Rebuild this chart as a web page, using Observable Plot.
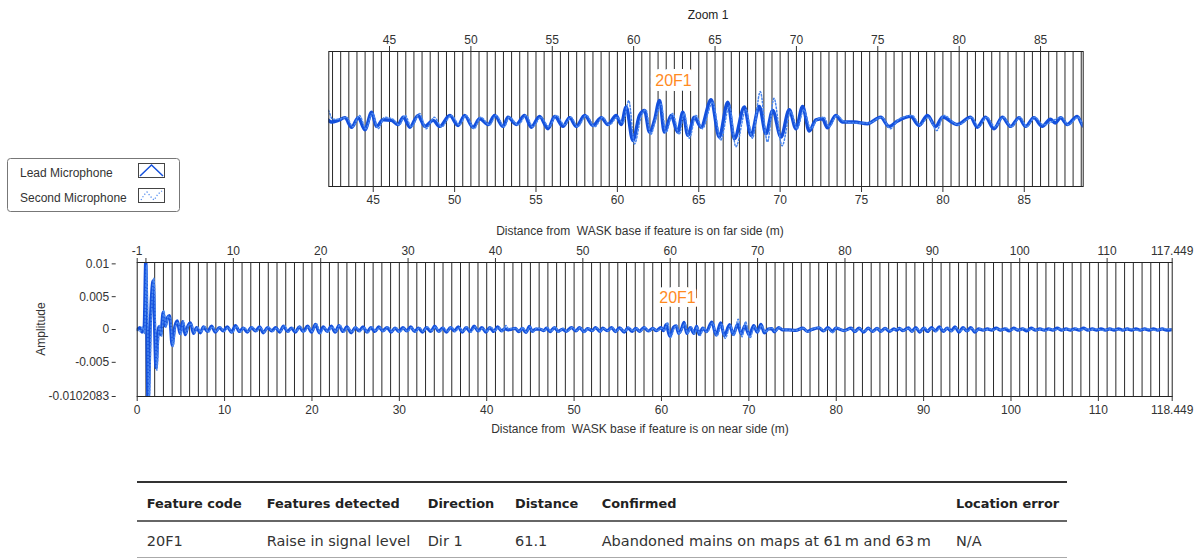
<!DOCTYPE html>
<html><head><meta charset="utf-8">
<script src="https://cdn.jsdelivr.net/npm/d3@7"></script>
<script src="https://cdn.jsdelivr.net/npm/@observablehq/plot@0.6"></script>
<style>
body{margin:0;background:#fff;}
#root{position:relative;width:1195px;height:559px;overflow:hidden;font-family:"Liberation Sans",Arial,sans-serif;color:#333;}
.abs{position:absolute;white-space:pre;}
svg.plot{position:absolute;left:0;}
</style></head><body><div id="root"></div>
<script>
// ---------- DATA ----------
// Lead microphone trace: [distance from WASK base, near side (m), amplitude]
const leadMic = [
[0,0],[0.3,0.0003],[0.55,-0.0004],[0.8,0.0005],[0.98,0.0105],[1.25,-0.0115],[1.5,0.0008],[1.82,0.0074],[2.15,-0.0058],[2.45,0.0004],[2.7,-0.0008],[2.97,0.0026],[3.2,0.0005],[3.45,0.0018],[3.7,0.0021],[4.0,-0.0024],[4.3,0.0004],[4.6,0.0013],[4.9,-0.0006],[5.2,0.0012],[5.5,-0.0008],[5.8,0.0005],[6.1,0.0010],[6.45,-0.0006],[6.8,0.0003],
[7.2,-0.0005],[7.6,0.0004],[8.05,-0.0003],[8.5,0.0005],[8.95,-0.0004],[9.4,0.0003],[9.85,-0.0002],[10.3,0.0004],[10.8,-0.0004],[11.25,0.0006],[11.7,-0.0003],[12.15,0.0002],[12.6,-0.0004],[13.05,0.0003],[13.55,-0.0002],[14.0,0.0004],[14.45,-0.0005],[14.9,0.0003],[15.4,-0.0002],[15.85,0.0003],[16.3,-0.0004],[16.75,0.0005],[17.2,-0.0003],[17.65,0.0002],[18.1,-0.0004],[18.55,0.0004],[19.0,-0.0003],[19.5,0.0005],[19.95,-0.0004],[20.4,0.0008],[20.85,-0.0005],[21.3,0.0004],[21.75,-0.0003],[22.2,0.0005],[22.65,-0.0004],[23.1,0.0006],[23.55,-0.0003],[24.0,0.0004],[24.5,-0.0005],[24.95,0.0003],[25.4,-0.0002],[25.85,0.0004],[26.3,-0.0004],[26.75,0.0003],[27.2,-0.0003],[27.65,0.0004],[28.1,-0.0002],[28.6,0.0003],[29.05,-0.0004],[29.5,0.0002],[29.95,-0.0003],[30.4,0.0003],[30.85,-0.0002],[31.3,0.0004],[31.75,-0.0003],[32.2,0.0002],[32.65,-0.0004],[33.1,0.0003],[33.6,-0.0003],[34.05,0.0005],[34.5,-0.0003],[34.95,0.0002],[35.4,-0.0004],[35.85,0.0003],[36.3,-0.0002],[36.75,0.0004],[37.2,-0.0004],[37.65,0.0003],[38.1,-0.0003],[38.55,0.0005],[39.0,-0.0002],[39.45,0.0003],[39.9,-0.0004],[40.35,0.0003],[40.8,-0.0003],[41.25,0.0004],[41.7,-0.0002],[42.1,0.0001],
[42.44,-0.00005],[42.85,0.00004],[43.26,0.00018],[43.67,-0.00032],[44.08,0.00018],[44.49,-0.00046],[44.90,0.00047],[45.20,-0.00028],[45.61,0.00007],[46.12,0.00004],[46.53,-0.00018],[46.84,0.00021],[47.25,-0.00032],[47.76,0.0003],[48.17,-0.00028],[48.68,0.00004],[49.09,-0.00028],[49.70,0.0003],[50.21,-0.00023],[50.62,0.0003],[51.13,-0.00032],[51.54,0.00012],[52.06,-0.00018],[52.46,0.0003],[52.98,-0.00028],[53.28,0.00021],[53.79,-0.00018],[54.30,0.0003],[54.71,-0.00032],[55.22,0.00025],[55.74,-0.0004],[56.15,0.00025],[56.66,-0.00028],[57.07,0.00018],[57.47,-0.00028],[57.99,0.0003],[58.50,-0.00023],[59.01,0.00018],[59.42,-0.00018],[59.93,0.0003],[60.23,-0.00018],[60.54,0.00074],[60.95,-0.00102],[61.36,0.0003],[61.67,0.00056],[61.97,-0.00058],[62.28,0.00004],[62.59,0.00109],[62.89,-0.00058],[63.30,0.0003],[63.71,-0.00058],[64.02,0.00047],[64.33,-0.00075],[64.73,0.00021],[65.14,-0.00032],[65.76,0.00112],[66.26,-0.00084],[66.78,0.001],[67.19,-0.00093],[67.80,0.00074],[68.21,-0.00075],[68.72,0.00077],[69.13,-0.00067],[69.54,0.00056],[70.05,-0.00084],[70.56,0.0006],[70.97,-0.0004],[71.38,0.00077],[71.79,-0.00053],[72.20,0.00007],[72.60,0.00012],[72.91,-0.00035],[73.42,0.0003],[73.83,-0.00005],[74.55,-0.00005],[75.36,-0.00014],[76.18,0.00021],[76.69,-0.00028],[77.21,0],[78.02,0.00025],[78.53,-0.00023],[79.05,0.0003],[79.56,-0.00028],[79.97,0.00021],[80.89,-0.00018],[81.70,0.00021],[82.11,-0.00032],[82.62,0.00021],[83.14,-0.0004],[83.65,0.00021],[84.16,-0.00028],[84.67,0.00018],[85.08,-0.00028],[85.59,0.00018],[86.10,-0.00028],[86.6,0.0001],[86.9,-0.0001],[87.23,0.00018],[87.64,-0.00018],[88.25,0.00025],[88.66,-0.00028],
[89.1,0.0003],[89.55,-0.0004],[90.0,0.0002],[90.45,-0.0003],[90.9,0.0003],[91.35,-0.0002],[91.8,0.0004],[92.25,-0.0003],[92.7,0.0002],[93.15,-0.0002],[93.6,0.0004],[94.05,-0.0004],[94.5,0.0003],[94.95,-0.0002],[95.4,0.0003],[95.85,-0.0004],[96.3,0.0001],[96.8,-0.0001],[97.3,0.0001],[97.8,-0.0001],[98.3,0.0002],[98.8,-0.0001],[99.3,0.0001],[99.8,-0.0002],[100.3,0.0002],[100.8,-0.0001],[101.3,0.0001],[101.8,-0.0002],[102.3,0.0002],[102.8,-0.0001],[103.3,0.0001],[103.8,-0.0001],[104.3,0.0001],[104.8,-0.0001],[105.3,0.0002],[105.8,-0.0001],[106.3,0.0001],[106.8,-0.0001],[107.3,0.0001],[107.8,-0.0001],[108.3,0.0002],[108.8,-0.0001],[109.3,0.0001],[109.8,-0.0001],[110.3,0.0001],[110.8,-0.0001],[111.3,0.0001],[111.8,-0.0001],[112.3,0.0001],[112.8,-0.0001],[113.3,0.0001],[113.8,-0.0001],[114.3,0.0001],[114.8,-0.0001],[115.3,0.0001],[115.8,-0.0001],[116.3,0.0001],[116.8,-0.0001],[117.3,0.0001],[117.8,-0.0001],[118.449,0]
];
// Second microphone trace
const secondMic = [
[0,0],[0.35,-0.0003],[0.6,0.0004],[0.85,-0.0006],[1.08,0.0098],[1.35,-0.0112],[1.6,0.001],[1.92,0.0078],[2.25,-0.0062],[2.55,0.0006],[2.8,-0.001],[3.05,0.0029],[3.3,0.0004],[3.55,0.002],[3.8,0.0017],[4.1,-0.0026],[4.4,0.0006],[4.7,0.0011],[5.0,-0.0008],[5.3,0.0013],[5.6,-0.0006],[5.9,0.0007],[6.2,0.0008],[6.55,-0.0005],[6.9,0.0004],
[7.3,-0.0004],[7.7,0.0005],[8.15,-0.0004],[8.6,0.0004],[9.05,-0.0003],[9.5,0.0004],[9.95,-0.0003],[10.4,0.0003],[10.9,-0.0005],[11.35,0.0005],[11.8,-0.0004],[12.25,0.0003],[12.7,-0.0003],[13.15,0.0004],[13.65,-0.0003],[14.1,0.0003],[14.55,-0.0004],[15.0,0.0004],[15.5,-0.0003],[15.95,0.0002],[16.4,-0.0003],[16.85,0.0006],[17.3,-0.0004],[17.75,0.0003],[18.2,-0.0003],[18.65,0.0005],[19.1,-0.0004],[19.6,0.0004],[20.05,-0.0003],[20.5,0.0009],[20.95,-0.0006],[21.4,0.0003],[21.85,-0.0004],[22.3,0.0004],[22.75,-0.0003],[23.2,0.0007],[23.65,-0.0004],[24.1,0.0003],[24.6,-0.0004],[25.05,0.0004],[25.5,-0.0003],[25.95,0.0003],[26.4,-0.0005],[26.85,0.0004],[27.3,-0.0002],[27.75,0.0003],[28.2,-0.0003],[28.7,0.0004],[29.15,-0.0003],[29.6,0.0003],[30.05,-0.0004],[30.5,0.0002],[30.95,-0.0003],[31.4,0.0003],[31.85,-0.0004],[32.3,0.0003],[32.75,-0.0003],[33.2,0.0004],[33.7,-0.0002],[34.15,0.0004],[34.6,-0.0004],[35.05,0.0003],[35.5,-0.0003],[35.95,0.0004],[36.4,-0.0003],[36.85,0.0003],[37.3,-0.0003],[37.75,0.0004],[38.2,-0.0004],[38.65,0.0004],[39.1,-0.0003],[39.55,0.0002],[40.0,-0.0003],[40.45,0.0004],[40.9,-0.0002],[41.35,0.0003],[41.8,-0.0003],[42.2,0.0006],
[42.5,0.0001],[42.9,0.0001],[43.35,0.0002],[43.75,-0.0003],[44.15,0.0003],[44.55,-0.0004],[44.95,0.0004],[45.3,-0.0004],[45.7,0.0002],[46.2,0.0001],[46.6,-0.0002],[46.95,0.0003],[47.35,-0.0003],[47.85,0.0004],[48.25,-0.0004],[48.75,0.0002],[49.2,-0.0003],[49.8,0.0003],[50.3,-0.0002],[50.7,0.0003],[51.2,-0.0004],[51.6,0.0002],[52.15,-0.0002],[52.55,0.0003],[53.05,-0.0003],[53.35,0.0002],[53.9,-0.0002],[54.4,0.0003],[54.8,-0.0003],[55.3,0.0002],[55.8,-0.0003],[56.25,0.0003],[56.75,-0.0002],[57.15,0.0002],[57.55,-0.0003],[58.1,0.0003],[58.6,-0.0003],[59.1,0.0002],[59.5,-0.0002],[60.0,0.0002],[60.35,-0.0001],[60.7,0.00108],[61.05,-0.0012],[61.45,0.0002],[61.75,0.0006],[62.05,-0.0007],[62.35,0.0001],[62.68,0.0009],[62.98,-0.0006],[63.4,0.0004],[63.8,-0.0007],[64.1,0.0004],[64.42,-0.0009],[64.83,0.0003],[65.22,-0.0004],[65.85,0.001],[66.35,-0.001],[66.88,0.0008],[67.28,-0.00135],[67.9,0.0006],[68.3,-0.0009],[68.78,0.00155],[69.22,-0.0011],[69.62,0.0012],[70.12,-0.0013],[70.65,0.0005],[71.05,-0.0004],[71.45,0.0006],[71.88,-0.0004],[72.3,0.0001],[72.7,0.0002],[73.0,-0.0003],[73.5,0.0003],[73.9,0],[74.6,-0.0001],[75.45,-0.0001],[76.25,0.0002],[76.78,-0.0004],[77.3,0.0001],[78.1,0.0003],[78.6,-0.0002],[79.12,0.0002],[79.62,-0.0005],[80.05,0.0003],[80.95,-0.0002],[81.78,0.0002],[82.2,-0.0003],[82.7,0.0002],[83.2,-0.0003],[83.72,0.0002],[84.22,-0.0003],[84.75,0.0002],[85.15,-0.0003],[85.65,0.0002],[86.18,-0.0002],[87.3,0.0002],[87.7,-0.0002],[88.3,0.0002],[88.7,-0.0003],
[89.2,0.0002],[89.65,-0.0003],[90.1,0.0003],[90.55,-0.0002],[91.0,0.0002],[91.45,-0.0003],[91.9,0.0003],[92.35,-0.0002],[92.8,0.0003],[93.25,-0.0003],[93.7,0.0003],[94.15,-0.0003],[94.6,0.0002],[95.05,-0.0003],[95.5,0.0002],[95.95,-0.0003],[96.4,0.0001],[97.0,-0.0001],[97.5,0.0001],[98.0,-0.0001],[98.5,0.0001],[99.0,-0.0001],[99.5,0.0002],[100.0,-0.0001],[100.5,0.0001],[101.0,-0.0001],[101.5,0.0002],[102.0,-0.0001],[102.5,0.0001],[103.0,-0.0001],[103.5,0.0001],[104.0,-0.0002],[104.5,0.0001],[105.0,-0.0001],[105.5,0.0001],[106.0,-0.0001],[106.5,0.0001],[107.0,-0.0001],[107.5,0.0002],[108.0,-0.0001],[108.5,0.0001],[109.0,-0.0001],[109.5,0.0001],[110.5,-0.0001],[111.5,0.0001],[112.5,-0.0001],[113.5,0.0001],[114.5,-0.0001],[115.5,0.0001],[116.5,-0.0001],[117.5,0.0001],[118.449,0]
];
// Tick labels
const zoomFarTicks = [45,50,55,60,65,70,75,80,85];          // top axis of zoom (far side)
const zoomNearTicks = [45,50,55,60,65,70,75,80,85];         // bottom axis of zoom (near side)
const farTickPos = [0,1,11,21,31,41,51,61,71,81,91,101,111,118.449]; // in near-side metres
const farTickLabels = ["-1","","10","20","30","40","50","60","70","80","90","100","110","117.449"];
const nearTicks = [0,10,20,30,40,50,60,70,80,90,100,110,118.449];
const ampTicks = [0.01,0.005,0,-0.005,-0.0102083];
const ampDomain = [-0.0102083, 0.0102083];
const zoomDomain = [42.27, 88.62];
const fullDomain = [0, 118.449];
const sideOffset = 1; // far-side distance = near-side distance - 1
const featureMain = [{code:"20F1", x:61.83, y:0.0048}];
const featureZoom = [{code:"20F1", x:63.45, y:0.00214}];
const legendItems = ["Lead Microphone","Second Microphone"];
const tableHeaders = ["Feature code","Features detected","Direction","Distance","Confirmed","Location error"];
const tableRow = ["20F1","Raise in signal level","Dir 1","61.1","Abandoned mains on maps at 61\u2009m and 63\u2009m","N/A"];

// ---------- STYLE ----------
const LEAD = "#1450dc", SECOND = "#4a86ee", ORANGE = "#ff8a1f", GRID = "#2a2a2a";
const root = document.getElementById("root");
const baseStyle = {fontFamily:"Liberation Sans, Arial, sans-serif", fontSize:"12px", background:"transparent", color:"#333", overflow:"visible"};

// ---------- ZOOM CHART ----------
const zoomGrid = d3.range(Math.ceil(zoomDomain[0]*2), Math.floor(zoomDomain[1]*2)+1).map(i => i/2);
const zoomPlot = Plot.plot({
  width:1195, height:220, marginLeft:328.3, marginRight:112.3, marginTop:51, marginBottom:34,
  x:{domain:zoomDomain}, y:{domain:[-0.00344,0.00366], axis:null},
  style: baseStyle,
  marks:[
    Plot.ruleX(zoomGrid, {stroke:GRID, strokeWidth:1}),
    Plot.line(leadMic, {x:d=>d[0], y:d=>d[1], curve:"monotone-x", stroke:LEAD, strokeWidth:3.4, clip:true}),
    Plot.line(secondMic, {x:d=>d[0], y:d=>d[1], curve:"monotone-x", stroke:SECOND, strokeWidth:1.5, strokeDasharray:"1.5,2", clip:true}),
    Plot.text(featureZoom, {x:"x", y:"y", text:"code", fill:ORANGE, stroke:"white", strokeWidth:10, fontSize:16}),
    Plot.frame({stroke:"#222"}),
    Plot.axisX({anchor:"top", ticks:zoomFarTicks.map(d=>d+sideOffset), tickFormat:d=>String(d-sideOffset), tickSize:6, tickPadding:2, label:null}),
    Plot.axisX({anchor:"bottom", ticks:zoomNearTicks, tickFormat:d=>String(d), tickSize:6, tickPadding:3, label:null})
  ]
});
zoomPlot.classList.add("plot"); zoomPlot.style.top = "0px";
root.appendChild(zoomPlot);

// ---------- MAIN CHART ----------
const fullGrid = d3.range(1, Math.floor(fullDomain[1])+1);
const mainPlot = Plot.plot({
  width:1195, height:225, marginLeft:136.7, marginRight:23.3, marginTop:42, marginBottom:49,
  x:{domain:fullDomain}, y:{domain:ampDomain},
  style: baseStyle,
  marks:[
    Plot.ruleX(fullGrid, {stroke:GRID, strokeWidth:1}),
    Plot.line(leadMic, {x:d=>d[0], y:d=>d[1], curve:"monotone-x", stroke:LEAD, strokeWidth:3.2, clip:true}),
    Plot.line(secondMic, {x:d=>d[0], y:d=>d[1], curve:"monotone-x", stroke:SECOND, strokeWidth:1.5, strokeDasharray:"1.5,2", clip:true}),
    Plot.text(featureMain, {x:"x", y:"y", text:"code", fill:ORANGE, stroke:"white", strokeWidth:8, fontSize:16}),
    Plot.frame({stroke:"#222"}),
    Plot.axisX({anchor:"top", ticks:farTickPos, tickFormat:d=>farTickLabels[farTickPos.indexOf(d)], tickSize:5, tickPadding:3, label:null}),
    Plot.axisX({anchor:"bottom", ticks:nearTicks, tickFormat:d=>String(d), tickSize:5, tickPadding:4, label:null}),
    Plot.axisY({anchor:"left", ticks:ampTicks, tickFormat:d=>String(d), tickSize:4, tickPadding:3, dx:-21, label:null})
  ]
});
mainPlot.classList.add("plot"); mainPlot.style.top = "220px";
root.appendChild(mainPlot);

// ---------- TEXT ----------
function addText(txt, css){ const d=document.createElement("div"); d.className="abs"; d.textContent=txt; Object.assign(d.style, css); root.appendChild(d); return d; }
addText("Zoom 1", {left:"708px", top:"15px", transform:"translate(-50%,-50%)", fontSize:"12px", color:"#222"});
addText("Distance from  WASK base if feature is on far side (m)", {left:"640px", top:"231px", transform:"translate(-50%,-50%)", fontSize:"12px", color:"#333"});
addText("Distance from  WASK base if feature is on near side (m)", {left:"640px", top:"429px", transform:"translate(-50%,-50%)", fontSize:"12px", color:"#333"});
addText("Amplitude", {left:"40.7px", top:"329px", transform:"translate(-50%,-50%) rotate(-90deg)", fontSize:"12px", color:"#333"});

// ---------- LEGEND ----------
const ns="http://www.w3.org/2000/svg";
const leg=document.createElementNS(ns,"svg");
leg.setAttribute("width","176"); leg.setAttribute("height","57");
leg.style.cssText="position:absolute;left:6px;top:157px;";
leg.innerHTML = `<rect x="1.5" y="1.5" width="172" height="53" rx="3" fill="#fff" stroke="#777"/>
<text x="14" y="20" font-size="12" fill="#333" font-family="Liberation Sans, Arial">${legendItems[0]}</text>
<text x="14" y="45" font-size="12" fill="#333" font-family="Liberation Sans, Arial">${legendItems[1]}</text>
<rect x="132.5" y="6.5" width="26" height="14" fill="#fff" stroke="#444"/>
<polyline points="134,19 145.5,8 157,19" fill="none" stroke="${LEAD}" stroke-width="1.5"/>
<rect x="132.5" y="31.5" width="26" height="14" fill="#fff" stroke="#444"/>
<polyline points="135,43 138,38 141,35 145,40 148,43 152,37 156,34" fill="none" stroke="${SECOND}" stroke-width="1.2" stroke-dasharray="1.2,2"/>`;
root.appendChild(leg);

// ---------- TABLE ----------
const colX=[146.7,266.7,427.7,515,601.7,956];
function rule(y,h,c){ const d=document.createElement("div"); d.style.cssText=`position:absolute;left:137px;width:930px;top:${y}px;height:${h}px;background:${c};`; root.appendChild(d); }
rule(481,2,"#333"); rule(520,1.5,"#666"); rule(557,1,"#aaa");
tableHeaders.forEach((t,i)=>addText(t,{left:colX[i]+"px", top:"503px", transform:"translateY(-50%)", fontFamily:"DejaVu Sans, sans-serif", fontWeight:"bold", fontSize:"12.9px", color:"#222"}));
tableRow.forEach((t,i)=>addText(t,{left:colX[i]+"px", top:"541px", transform:"translateY(-50%)", fontFamily:"DejaVu Sans, sans-serif", fontSize:"14.5px", color:"#333"}));
</script></body></html>
